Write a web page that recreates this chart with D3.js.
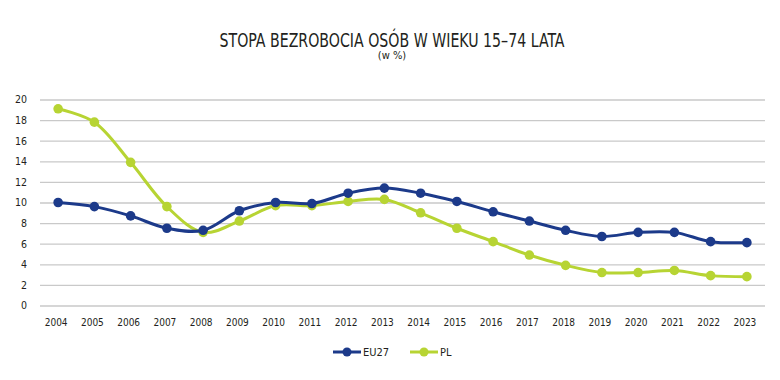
<!DOCTYPE html>
<html><head><meta charset="utf-8">
<script src="https://cdn.jsdelivr.net/npm/d3@7"></script>
<style>
body{margin:0;background:#fff;}
svg text{font-family:"DejaVu Sans Condensed","Liberation Sans Narrow","Roboto",sans-serif;}
</style></head>
<body><svg id="c" width="780" height="380"></svg>
<script>
const years = ["2004","2005","2006","2007","2008","2009","2010","2011","2012","2013","2014","2015","2016","2017","2018","2019","2020","2021","2022","2023"];
const eu27 = [10.0,9.6,8.7,7.5,7.3,9.2,10.0,9.9,10.9,11.4,10.9,10.1,9.1,8.2,7.3,6.7,7.1,7.1,6.2,6.1];
const pl = [19.1,17.8,13.9,9.6,7.1,8.2,9.7,9.7,10.1,10.3,9.0,7.5,6.2,4.9,3.9,3.2,3.2,3.4,2.9,2.8];
const yTicks = [0,2,4,6,8,10,12,14,16,18,20];
const seriesNames = ["EU27","PL"];
const colors = ["#1c3a8a","#b7d433"];

const svg = d3.select("#c");
const x = d3.scaleBand().domain(years).range([40,765]);
const y = d3.scaleLinear().domain([0,20]).range([305.5,99.5]);

svg.append("text").attr("x",392).attr("y",46.5).attr("text-anchor","middle")
  .attr("font-size",19).attr("fill","#231f20")
  .attr("textLength",345).attr("lengthAdjust","spacingAndGlyphs")
  .text("STOPA BEZROBOCIA OSÓB W WIEKU 15–74 LATA");
svg.append("text").attr("x",392).attr("y",59).attr("text-anchor","middle")
  .attr("font-size",11).attr("fill","#231f20").text("(w %)");

const yAxis = d3.axisLeft(y).tickValues(yTicks).tickSize(-725).tickPadding(13);
const gy = svg.append("g").attr("transform","translate(40,0)").call(yAxis);
gy.select(".domain").remove();
gy.selectAll(".tick line").attr("stroke","#c9c9c9").attr("stroke-width",1.3);
gy.selectAll(".tick text").attr("font-size",10.5).attr("fill","#231f20");

const xAxis = d3.axisBottom(x).tickSize(0).tickPadding(13);
const gx = svg.append("g").attr("transform","translate(0,305.5)").call(xAxis);
gx.select(".domain").remove();
gx.selectAll(".tick text").attr("font-size",10).attr("fill","#231f20").attr("dx",-2);

const cx = d => x(d) + x.bandwidth()/2;
const line = d3.line().x((d,i)=>cx(years[i])).y(d=>y(d)).curve(d3.curveCatmullRom.alpha(0.5));

[eu27,pl].slice().reverse().forEach((s,k)=>{
  const idx = 1-k;
  const g = svg.append("g");
  g.append("path").datum(s).attr("d",line).attr("fill","none")
    .attr("stroke",colors[idx]).attr("stroke-width",3);
  g.selectAll("circle").data(s).join("circle")
    .attr("cx",(d,i)=>cx(years[i])).attr("cy",d=>y(d)).attr("r",4.8).attr("fill",colors[idx]);
});

const legX = [333,410];
seriesNames.forEach((n,i)=>{
  const g = svg.append("g").attr("transform",`translate(${legX[i]},352)`);
  g.append("line").attr("x1",0).attr("x2",28).attr("stroke",colors[i]).attr("stroke-width",3);
  g.append("circle").attr("cx",14).attr("r",4.5).attr("fill",colors[i]);
  g.append("text").attr("x",30).attr("y",4).attr("font-size",11).attr("fill","#231f20").text(n);
});
</script></body></html>
